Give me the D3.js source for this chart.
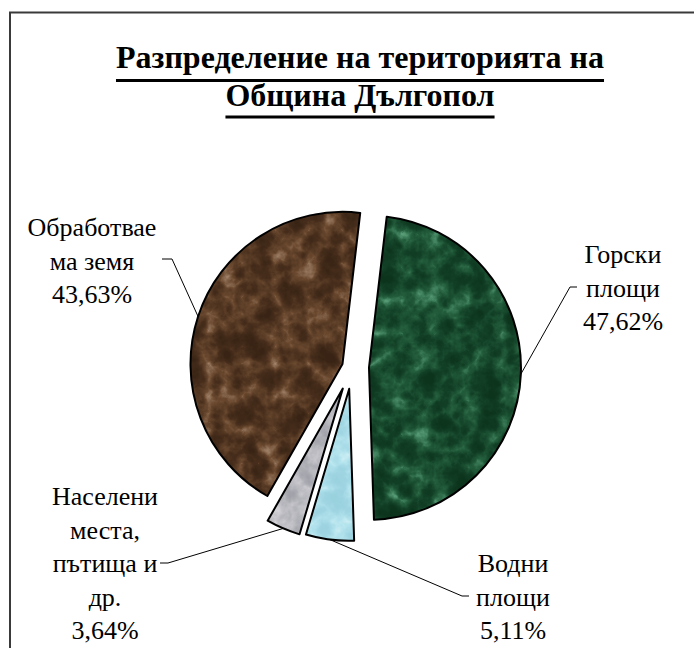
<!DOCTYPE html>
<html>
<head>
<meta charset="utf-8">
<script src="https://cdn.jsdelivr.net/npm/d3@7"></script>
<style>
  body { margin: 0; background: #fff; }
  svg { display: block; }
</style>
</head>
<body>
<svg></svg>
<script>
// data
const titleLines = ['Разпределение на територията на', 'Община Дългопол'];
const categories = ['Горски площи', 'Водни площи', 'Населени места, пътища и др.', 'Обработваема земя'];
const values = [47.62, 5.11, 3.64, 43.63];
// how the labels are wrapped in the picture
const labelLines = [
    ['Горски', 'площи'],
    ['Водни', 'площи'],
    ['Населени', 'места,', 'пътища и', 'др.'],
    ['Обработвае', 'ма земя']
];

const size = {w: 694, h: 648};
const serif = '"Liberation Serif", "Times New Roman", serif';
const svg = d3.select('svg')
    .attr('width', size.w)
    .attr('height', size.h);

// chart frame (right and bottom edges run off the picture)
svg.append('rect')
    .attr('x', 10).attr('y', 12.5)
    .attr('width', 700).attr('height', 700)
    .attr('fill', '#fff')
    .attr('stroke', '#3a3a3a')
    .attr('stroke-width', 2);

// marble-like textures, one per slice: veins (turbulence) + blotches (fractal noise)
const textures = [
    {id: 'tex-forest', seed: 4,
     r: [0.05, 0.07, 0.14, 0.33, 0.38], g: [0.20, 0.25, 0.37, 0.60, 0.65], b: [0.11, 0.15, 0.24, 0.45, 0.50]},
    {id: 'tex-water', seed: 7,
     r: [0.60, 0.63, 0.70, 0.82, 0.86], g: [0.82, 0.84, 0.89, 0.94, 0.96], b: [0.87, 0.89, 0.93, 0.96, 0.97]},
    {id: 'tex-urban', seed: 9,
     r: [0.62, 0.68, 0.78, 0.90, 0.93], g: [0.62, 0.68, 0.78, 0.90, 0.93], b: [0.65, 0.71, 0.80, 0.91, 0.94]},
    {id: 'tex-arable', seed: 11,
     r: [0.22, 0.28, 0.41, 0.62, 0.68], g: [0.14, 0.18, 0.28, 0.50, 0.56], b: [0.08, 0.11, 0.18, 0.40, 0.46]}
];

const defs = svg.append('defs');
textures.forEach(t => {
    // slices are translated to their own origin, so the region is centred on it
    const f = defs.append('filter')
        .attr('id', t.id)
        .attr('filterUnits', 'userSpaceOnUse')
        .attr('x', -200).attr('y', -200)
        .attr('width', 400).attr('height', 400)
        .attr('color-interpolation-filters', 'sRGB');
    f.append('feTurbulence')
        .attr('type', 'turbulence')
        .attr('baseFrequency', 0.03)
        .attr('numOctaves', 4)
        .attr('seed', t.seed)
        .attr('result', 'vt');
    f.append('feColorMatrix').attr('in', 'vt')
        .attr('type', 'matrix')
        .attr('values', '1 0 0 0 0  0 0 0 0 0  0 0 0 0 0  0 0 0 0 1')
        .attr('result', 'vr');
    f.append('feTurbulence')
        .attr('type', 'fractalNoise')
        .attr('baseFrequency', 0.05)
        .attr('numOctaves', 4)
        .attr('seed', t.seed + 20)
        .attr('result', 'nf');
    f.append('feColorMatrix').attr('in', 'nf')
        .attr('type', 'matrix')
        .attr('values', '0 0 0 0 0  1 0 0 0 0  0 0 0 0 0  0 0 0 0 1')
        .attr('result', 'ng');
    f.append('feComposite')
        .attr('in', 'vr').attr('in2', 'ng')
        .attr('operator', 'arithmetic')
        .attr('k1', 0).attr('k2', 1).attr('k3', 1).attr('k4', 0)
        .attr('result', 'mix');
    f.append('feColorMatrix').attr('in', 'mix')
        .attr('type', 'matrix')
        .attr('values', '-0.7 0.8 0 0 0.15  -0.7 0.8 0 0 0.15  -0.7 0.8 0 0 0.15  0 0 0 0 1');
    const ct = f.append('feComponentTransfer');
    ct.append('feFuncR').attr('type', 'table').attr('tableValues', t.r.join(' '));
    ct.append('feFuncG').attr('type', 'table').attr('tableValues', t.g.join(' '));
    ct.append('feFuncB').attr('type', 'table').attr('tableValues', t.b.join(' '));
    f.append('feGaussianBlur').attr('stdDeviation', 0.5);
    f.append('feComposite').attr('in2', 'SourceGraphic').attr('operator', 'in');
});

// pie layout
const center = {x: 352, y: 367};
const radius = 152;
const explode = [17, 22, 23.5, 10];
const start = 6.7 * Math.PI / 180;

const pie = d3.pie().sort(null)
    .startAngle(start).endAngle(start + 2 * Math.PI);
const arcs = pie(values);
const arc = d3.arc().innerRadius(0).outerRadius(radius);

function offset(d, i) {
    const a = (d.startAngle + d.endAngle) / 2;
    return [center.x + explode[i] * Math.sin(a), center.y - explode[i] * Math.cos(a)];
}

const slices = svg.append('g')
    .selectAll('g')
    .data(arcs)
    .join('g')
    .attr('transform', (d, i) => `translate(${offset(d, i)})`);

slices.append('path')
    .attr('d', arc)
    .attr('fill', '#000')
    .attr('filter', (d, i) => `url(#${textures[i].id})`);

slices.append('path')
    .attr('d', arc)
    .attr('fill', 'none')
    .attr('stroke', '#000')
    .attr('stroke-width', 2)
    .attr('stroke-linejoin', 'round');

// labels
const fmt = d3.formatLocale({decimal: ',', thousands: ' ', grouping: [3], currency: ['', '']}).format('.2f');
const lineH = 33.5;
// text block centre x, first baseline y, leader elbow and leader end
const labelPos = [
    {x: 623, y: 263, elbow: [570, 287], end: [577, 287]},
    {x: 513, y: 572, elbow: [462, 596], end: [469, 596]},
    {x: 105, y: 505, elbow: [168, 563], end: [160, 563]},
    {x: 92,  y: 236, elbow: [172, 259], end: [162, 259]}
];

const leader = d3.line();
svg.append('g')
    .selectAll('path')
    .data(arcs)
    .join('path')
    .attr('fill', 'none')
    .attr('stroke', '#000')
    .attr('stroke-width', 1)
    .attr('d', (d, i) => {
        const o = offset(d, i);
        const a = (d.startAngle + d.endAngle) / 2;
        const p = [o[0] + radius * Math.sin(a), o[1] - radius * Math.cos(a)];
        return leader([p, labelPos[i].elbow, labelPos[i].end]);
    });

const labels = svg.append('g')
    .style('font-family', serif)
    .style('font-size', '26px')
    .attr('fill', '#000')
    .attr('text-anchor', 'middle')
    .selectAll('text')
    .data(arcs)
    .join('text')
    .attr('x', (d, i) => labelPos[i].x)
    .attr('y', (d, i) => labelPos[i].y);

labels.selectAll('tspan')
    .data((d, i) => labelLines[i].concat([fmt(d.data) + '%']))
    .join('tspan')
    .attr('x', function() { return this.parentNode.getAttribute('x'); })
    .attr('dy', (d, j) => j === 0 ? 0 : lineH)
    .text(d => d);

// title, underlined
const titleG = svg.append('g')
    .style('font-family', serif)
    .style('font-size', '32px')
    .style('font-weight', 'bold')
    .attr('text-anchor', 'middle');

const titleY = [68, 106];
const underlineGap = [12.5, 11];
titleLines.forEach((t, i) => {
    const txt = titleG.append('text')
        .attr('x', 360)
        .attr('y', titleY[i])
        .text(t);
    const w = txt.node().getComputedTextLength();
    titleG.append('line')
        .attr('x1', 360 - w / 2).attr('x2', 360 + w / 2)
        .attr('y1', titleY[i] + underlineGap[i]).attr('y2', titleY[i] + underlineGap[i])
        .attr('stroke', '#000')
        .attr('stroke-width', 3);
});
</script>
</body>
</html>
